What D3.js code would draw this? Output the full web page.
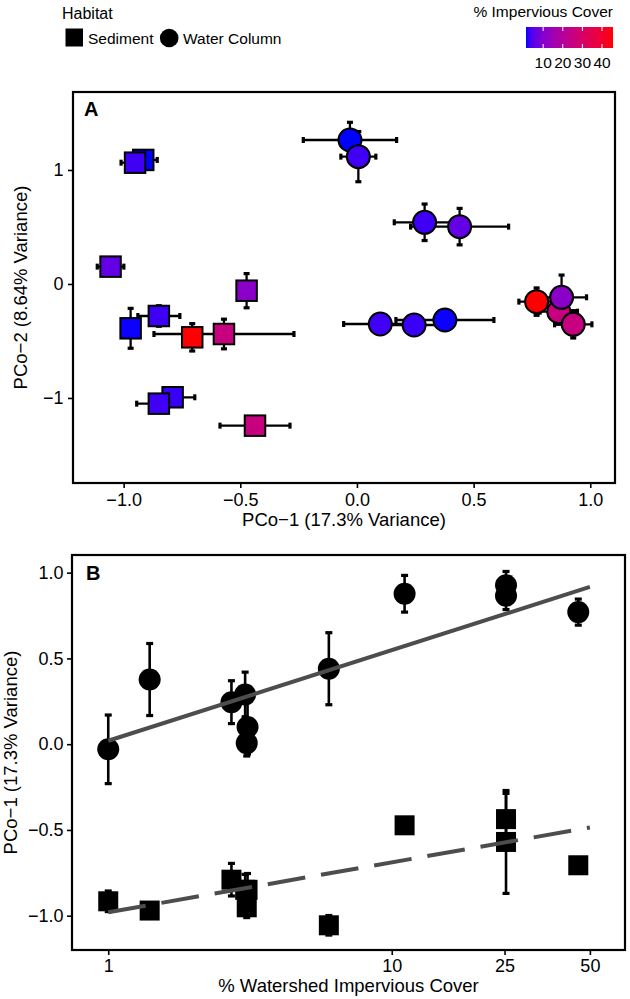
<!DOCTYPE html>
<html><head><meta charset="utf-8">
<script src="https://cdn.jsdelivr.net/npm/d3@7"></script>
<style>
body{margin:0;background:#fff}
text{font-family:"Liberation Sans",Arial,Helvetica,sans-serif;fill:#000}
</style>
</head><body>
<svg id="c" width="630" height="999"></svg>
<script>
// ---------------- DATA ----------------
const habitats = ["Sediment", "Water Column"];
// Water column sites
const waterImperv = [45.5, 25.3, 25.3, 11.1, 1.0, 3.08, 3.04, 6.0, 3.1, 2.72, 1.4];
const waterPC1    = [0.77, 0.865, 0.927, 0.877, -0.03, 0.006, 0.29, 0.44, 0.10, 0.245, 0.377];
const waterPC1se  = [0.076, 0.08, 0.08, 0.107, 0.20, 0.075, 0.13, 0.21, 0.157, 0.125, 0.21];
const waterPC2    = [-0.155, -0.243, -0.354, -0.117, 1.263, 1.117, 0.541, 0.503, -0.351, -0.36, -0.316];
const waterPC2se  = [0.12, 0.11, 0.12, 0.195, 0.155, 0.22, 0.16, 0.16, 0.05, 0.05, 0.04];
// Sediment sites
const sedImperv = [45.5, 25.3, 25.3, 11.1, 1.0, 3.08, 3.04, 6.0, 2.72, 3.1, 1.4];
const sedPC1    = [-0.706, -0.57, -0.437, -0.473, -0.916, -0.951, -0.849, -1.056, -0.79, -0.849, -0.97];
const sedPC1se  = [0.03, 0.30, 0.15, 0.03, 0.06, 0.06, 0.09, 0.057, 0.095, 0.095, 0.03];
const sedPC2    = [-0.468, -0.439, -1.243, -0.059, 1.088, 1.064, -0.281, 0.152, -0.994, -1.05, -0.389];
const sedPC2se  = [0.12, 0.13, 0.03, 0.15, 0.03, 0.03, 0.09, 0.03, 0.03, 0.03, 0.175];
// Linear fits of PCo-1 on log10(% impervious cover)
const fitRange     = [1, 50];
const waterFit     = [0.02, 0.528];   // intercept, slope
const sedimentFit  = [-0.98, 0.291];
// Colour scale
const colorLimits  = [1.26, 45.6];
const colorTicks   = [10, 20, 30, 40];
// Axis ticks
const aXTicks = [-1, -0.5, 0, 0.5, 1];
const aYTicks = [-1, 0, 1];
const bXTicks = [1, 10, 25, 50];
const bYTicks = [-1, -0.5, 0, 0.5, 1];

// ---------------- BUILD ----------------
const mk = (hab, imp, p1, p1se, p2, p2se) => imp.map((v, i) => ({hab, imp: v, pc1: p1[i], pc1se: p1se[i], pc2: p2[i], pc2se: p2se[i]}));
const sed = mk("Sediment", sedImperv, sedPC1, sedPC1se, sedPC2, sedPC2se);
const wat = mk("Water Column", waterImperv, waterPC1, waterPC1se, waterPC2, waterPC2se);
const all = sed.concat(wat);

const svg = d3.select("#c");
const fmt1 = d3.format(".1f");
const col = d3.scaleLinear().domain(colorLimits).range(["blue", "red"]).interpolate(d3.interpolateLab).clamp(true);

// ---------- Panel A ----------
const A = {l: 73, r: 615, t: 92, b: 483};
const xA = d3.scaleLinear().domain([-1.217, 1.106]).range([A.l, A.r]);
const yA = d3.scaleLinear().domain([-1.746, 1.684]).range([A.b, A.t]);
const gA = svg.append("g");

const axAx = gA.append("g").attr("transform", `translate(0,${A.b})`)
  .call(d3.axisBottom(xA).tickValues(aXTicks).tickFormat(fmt1).tickSizeOuter(0).tickSize(5).tickPadding(5));
const axAy = gA.append("g").attr("transform", `translate(${A.l},0)`)
  .call(d3.axisLeft(yA).tickValues(aYTicks).tickFormat(d3.format("d")).tickSizeOuter(0).tickSize(5).tickPadding(4.5));
[axAx, axAy].forEach(g => {
  g.select(".domain").remove();
  g.selectAll(".tick line").attr("stroke", "#000").attr("stroke-width", 1.6);
  g.selectAll(".tick text").style("font-size", "18px").attr("fill", "#000");
});

// error bars A
const capA = 3;
const ebA = gA.append("g").attr("stroke", "#000");
all.forEach(d => {
  const cx = xA(d.pc1), cy = yA(d.pc2);
  const x0 = xA(d.pc1 - d.pc1se), x1 = xA(d.pc1 + d.pc1se);
  const y0 = yA(d.pc2 - d.pc2se), y1 = yA(d.pc2 + d.pc2se);
  ebA.append("line").attr("x1", x0).attr("x2", x1).attr("y1", cy).attr("y2", cy).attr("stroke-width", 2.3);
  ebA.append("line").attr("x1", x0).attr("x2", x0).attr("y1", cy - capA).attr("y2", cy + capA).attr("stroke-width", 3.2);
  ebA.append("line").attr("x1", x1).attr("x2", x1).attr("y1", cy - capA).attr("y2", cy + capA).attr("stroke-width", 3.2);
  ebA.append("line").attr("x1", cx).attr("x2", cx).attr("y1", y0).attr("y2", y1).attr("stroke-width", 2.3);
  ebA.append("line").attr("x1", cx - capA).attr("x2", cx + capA).attr("y1", y0).attr("y2", y0).attr("stroke-width", 3.2);
  ebA.append("line").attr("x1", cx - capA).attr("x2", cx + capA).attr("y1", y1).attr("y2", y1).attr("stroke-width", 3.2);
});
// points A
const ptA = gA.append("g").attr("stroke", "#000").attr("stroke-width", 2);
all.forEach(d => {
  if (d.hab === "Sediment") {
    const s = 20.5;
    ptA.append("rect").attr("x", xA(d.pc1) - s / 2).attr("y", yA(d.pc2) - s / 2).attr("width", s).attr("height", s).attr("fill", col(d.imp));
  } else {
    ptA.append("circle").attr("cx", xA(d.pc1)).attr("cy", yA(d.pc2)).attr("r", 11.5).attr("fill", col(d.imp));
  }
});
gA.append("rect").attr("x", A.l).attr("y", A.t).attr("width", A.r - A.l).attr("height", A.b - A.t)
  .attr("fill", "none").attr("stroke", "#000").attr("stroke-width", 2.2);
gA.append("text").attr("x", 84).attr("y", 115.5).text("A").style("font-size", "20px").style("font-weight", "bold");
gA.append("text").attr("x", (A.l + A.r) / 2).attr("y", 526).attr("text-anchor", "middle").style("font-size", "18.5px").text("PCo\u22121 (17.3% Variance)");
gA.append("text").attr("transform", `translate(27,${(A.t + A.b) / 2}) rotate(-90)`).attr("text-anchor", "middle").style("font-size", "18.5px").text("PCo\u22122 (8.64% Variance)");

// ---------- Panel B ----------
const B = {l: 72, r: 625, t: 555, b: 950};
const xB = d3.scaleLog().domain([0.745, 66.5]).range([B.l, B.r]);
const yB = d3.scaleLinear().domain([-1.2, 1.103]).range([B.b, B.t]);
const gB = svg.append("g");
const axBx = gB.append("g").attr("transform", `translate(0,${B.b})`)
  .call(d3.axisBottom(xB).tickValues(bXTicks).tickFormat(d3.format("d")).tickSizeOuter(0).tickSize(5).tickPadding(4));
const axBy = gB.append("g").attr("transform", `translate(${B.l},0)`)
  .call(d3.axisLeft(yB).tickValues(bYTicks).tickFormat(fmt1).tickSizeOuter(0).tickSize(5).tickPadding(3.5));
[axBx, axBy].forEach(g => {
  g.select(".domain").remove();
  g.selectAll(".tick line").attr("stroke", "#000").attr("stroke-width", 1.6);
  g.selectAll(".tick text").style("font-size", "18px").attr("fill", "#000");
});
const capB = 3.5;
const ebB = gB.append("g").attr("stroke", "#000");
all.forEach(d => {
  const cx = xB(d.imp), y0 = yB(d.pc1 - d.pc1se), y1 = yB(d.pc1 + d.pc1se);
  ebB.append("line").attr("x1", cx).attr("x2", cx).attr("y1", y0).attr("y2", y1).attr("stroke-width", 2.6);
  ebB.append("line").attr("x1", cx - capB).attr("x2", cx + capB).attr("y1", y0).attr("y2", y0).attr("stroke-width", 3.2);
  ebB.append("line").attr("x1", cx - capB).attr("x2", cx + capB).attr("y1", y1).attr("y2", y1).attr("stroke-width", 3.2);
});
const ptB = gB.append("g").attr("fill", "#000");
all.forEach(d => {
  if (d.hab === "Sediment") {
    const s = 20;
    ptB.append("rect").attr("x", xB(d.imp) - s / 2).attr("y", yB(d.pc1) - s / 2).attr("width", s).attr("height", s);
  } else {
    ptB.append("circle").attr("cx", xB(d.imp)).attr("cy", yB(d.pc1)).attr("r", 11);
  }
});
const fitLine = (fit) => fitRange.map(x => [xB(x), yB(fit[0] + fit[1] * Math.log10(x))]);
const line = d3.line();
gB.append("path").attr("d", line(fitLine(waterFit))).attr("stroke", "#4d4d4d").attr("stroke-width", 4).attr("fill", "none");
gB.append("path").attr("d", line(fitLine(sedimentFit))).attr("stroke", "#4d4d4d").attr("stroke-width", 4).attr("fill", "none").attr("stroke-dasharray", "38,16");
gB.append("rect").attr("x", B.l).attr("y", B.t).attr("width", B.r - B.l).attr("height", B.b - B.t)
  .attr("fill", "none").attr("stroke", "#000").attr("stroke-width", 2.2);
gB.append("text").attr("x", 86).attr("y", 579.5).text("B").style("font-size", "20px").style("font-weight", "bold");
gB.append("text").attr("x", (B.l + B.r) / 2).attr("y", 992).attr("text-anchor", "middle").style("font-size", "18.5px").text("% Watershed Impervious Cover");
gB.append("text").attr("transform", `translate(17,${(B.t + B.b) / 2}) rotate(-90)`).attr("text-anchor", "middle").style("font-size", "18.5px").text("PCo\u22121 (17.3% Variance)");

// ---------- Legends ----------
const gL = svg.append("g");
gL.append("text").attr("x", 62).attr("y", 18.5).style("font-size", "16px").text("Habitat");
gL.append("rect").attr("x", 65.5).attr("y", 28.5).attr("width", 17.5).attr("height", 18).attr("fill", "#000");
gL.append("text").attr("x", 88).attr("y", 43.5).style("font-size", "15.5px").text(habitats[0]);
gL.append("circle").attr("cx", 169.2).attr("cy", 38).attr("r", 9.3).attr("fill", "#000");
gL.append("text").attr("x", 183).attr("y", 43.5).style("font-size", "15.5px").text(habitats[1]);

const barX = [526, 613], barY = [27, 48];
gL.append("text").attr("x", barX[1]).attr("y", 17).attr("text-anchor", "end").style("font-size", "15.5px").text("% Impervious Cover");
const grad = svg.append("defs").append("linearGradient").attr("id", "gr");
d3.range(0, 1.0001, 0.05).forEach(t => {
  grad.append("stop").attr("offset", t).attr("stop-color", col(colorLimits[0] + t * (colorLimits[1] - colorLimits[0])));
});
const xC = d3.scaleLinear().domain(colorLimits).range(barX);
gL.append("rect").attr("x", barX[0]).attr("y", barY[0]).attr("width", barX[1] - barX[0]).attr("height", barY[1] - barY[0]).attr("fill", "url(#gr)");
colorTicks.forEach(t => {
  const x = xC(t);
  gL.append("line").attr("x1", x).attr("x2", x).attr("y1", barY[0]).attr("y2", barY[0] + 4).attr("stroke", "#fff").attr("stroke-width", 1);
  gL.append("line").attr("x1", x).attr("x2", x).attr("y1", barY[1] - 4).attr("y2", barY[1]).attr("stroke", "#fff").attr("stroke-width", 1);
  gL.append("text").attr("x", x).attr("y", 68).attr("text-anchor", "middle").style("font-size", "15.5px").text(t);
});
</script>
</body></html>
